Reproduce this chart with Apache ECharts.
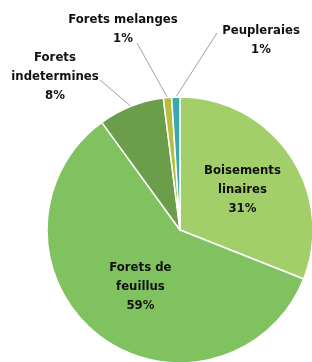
<!DOCTYPE html>
<html>
<head>
<meta charset="utf-8">
<script src="https://cdn.jsdelivr.net/npm/echarts@6/dist/echarts.min.js"></script>
<style>html,body{margin:0;padding:0;background:#fff}#c{width:312px;height:362px}</style>
</head>
<body>
<div id="c"></div>
<script>
var categories = ['Boisements\nlinaires', 'Forets de\nfeuillus', 'Forets\nindetermines', 'Forets melanges', 'Peupleraies'];
var values = [31, 59, 8, 1, 1];
var colors = ['#a3cf6a', '#80c260', '#6a9e4b', '#b5bd3a', '#3aaaa8'];

var outsideLabels = {
  2: {x: 55, y: 77, end: [100, 80]},
  3: {x: 123, y: 29, end: [137, 43]},
  4: {x: 261, y: 40, end: [217, 33]}
};
var insideNudge = {0: [5, -1], 1: [3, 2]};

var chart = echarts.init(document.getElementById('c'), null, {renderer: 'canvas'});
var data = categories.map(function (n, i) {
  var item = {name: n, value: values[i], itemStyle: {color: colors[i]}};
  if (outsideLabels[i]) {
    item.label = {position: 'outside'};
    item.labelLine = {show: true};
  } else {
    item.label = {position: 'inside'};
    item.labelLine = {show: false};
  }
  return item;
});
chart.setOption({
  animation: false,
  series: [{
    type: 'pie',
    center: [180, 230],
    radius: 133,
    startAngle: 90,
    clockwise: true,
    avoidLabelOverlap: false,
    itemStyle: {borderColor: '#ffffff', borderWidth: 1.5},
    label: {
      formatter: '{b}\n{d}%',
      fontFamily: '"DejaVu Sans Condensed", "DejaVu Sans", sans-serif',
      fontWeight: 'bold',
      fontSize: 13,
      lineHeight: 19,
      color: '#111111',
      align: 'center'
    },
    labelLine: {lineStyle: {color: '#a0a0a0', width: 1}},
    labelLayout: function (p) {
      var o = outsideLabels[p.dataIndex];
      if (!o) {
        var nd = insideNudge[p.dataIndex] || [0, 0];
        return {dx: nd[0], dy: nd[1]};
      }
      var start = p.labelLinePoints ? p.labelLinePoints[0] : o.end;
      return {
        x: o.x, y: o.y, align: 'center', verticalAlign: 'middle',
        labelLinePoints: [start, o.end, o.end]
      };
    },
    data: data
  }]
});
</script>
</body>
</html>
